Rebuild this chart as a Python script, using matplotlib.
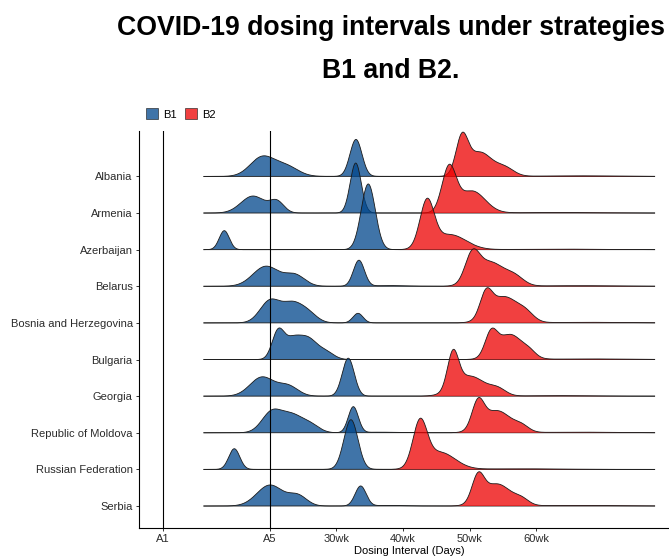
import numpy as np
import matplotlib
matplotlib.use("Agg")
import matplotlib.pyplot as plt
from matplotlib.patches import Patch

plt.rcParams['font.family'] = ['Liberation Sans', 'DejaVu Sans']

countries = ["Albania", "Armenia", "Azerbaijan", "Belarus", "Bosnia and Herzegovina",
             "Bulgaria", "Georgia", "Republic of Moldova", "Russian Federation", "Serbia"]
strategies = ["B1", "B2"]
fill_colors = ["#00468B", "#ED0000"]

xtick_days = [28, 140, 210, 280, 350, 420]
xtick_labels = ["A1", "A5", "30wk", "40wk", "50wk", "60wk"]
ref_lines = [28, 140]
x_range = [70.5, 544.8]

# Ridge components: peak centre (days), spread (days), height (row units)
b1_center = [[132.0, 157.2, 230.7],
             [122.5, 147.7, 230.4],
             [92.4, 243.6],
             [136.2, 166.6, 233.8, 266.4],
             [140.4, 163.5, 180.3, 232.8],
             [148.8, 163.5, 180.3, 199.2],
             [132.0, 159.3, 222.6],
             [142.5, 163.5, 182.4, 227.9, 255.9],
             [102.9, 225.4],
             [140.4, 169.7, 235.6, 266.4]]
b1_spread = [[12.6, 12.6, 6.3],
             [12.6, 7.4, 5.8],
             [5.3, 7.4],
             [13.7, 10.5, 5.8, 15.8],
             [10.5, 10.5, 9.5, 5.3],
             [6.3, 8.4, 9.5, 8.4],
             [12.6, 10.5, 6.3],
             [10.5, 10.5, 9.5, 5.3, 15.8],
             [5.8, 7.4],
             [13.7, 9.5, 5.8, 15.8]]
b1_height = [[0.519, 0.273, 1.010],
             [0.464, 0.300, 1.365],
             [0.519, 1.794],
             [0.546, 0.300, 0.710, 0.019],
             [0.601, 0.491, 0.246, 0.262],
             [0.737, 0.491, 0.546, 0.191],
             [0.519, 0.273, 1.037],
             [0.573, 0.437, 0.218, 0.710, 0.016],
             [0.565, 1.357],
             [0.573, 0.273, 0.546, 0.016]]

b2_center = [[342.0, 360.9, 387.2, 466.0],
             [328.4, 352.6, 445.0],
             [305.3, 329.4, 445.0],
             [352.6, 371.4, 397.7, 466.0],
             [367.2, 386.2, 409.3, 476.5],
             [372.5, 392.5, 413.4, 476.5],
             [332.6, 350.4, 379.9, 445.0],
             [358.8, 378.8, 405.0, 466.0],
             [297.9, 318.9, 403.0],
             [358.8, 378.8, 405.0, 466.0]]
b2_spread = [[6.3, 12.6, 9.5, 42.0],
             [7.4, 13.7, 42.0],
             [7.4, 16.8, 42.0],
             [7.4, 14.7, 9.5, 42.0],
             [6.3, 14.7, 8.4, 42.0],
             [6.3, 13.7, 6.3, 42.0],
             [5.8, 15.8, 8.4, 31.5],
             [6.3, 14.7, 7.4, 42.0],
             [7.4, 15.8, 42.0],
             [6.3, 14.7, 7.4, 42.0]]
b2_height = [[0.983, 0.655, 0.218, 0.016],
             [1.201, 0.601, 0.014],
             [1.256, 0.410, 0.014],
             [0.710, 0.655, 0.218, 0.016],
             [0.628, 0.710, 0.191, 0.016],
             [0.601, 0.683, 0.109, 0.016],
             [0.983, 0.546, 0.164, 0.014],
             [0.710, 0.601, 0.137, 0.016],
             [1.201, 0.464, 0.016],
             [0.683, 0.601, 0.137, 0.016]]

centers = [b1_center, b2_center]
spreads = [b1_spread, b2_spread]
heights = [b1_height, b2_height]


def ridge(x, c, s, h):
    y = np.zeros_like(x)
    for ci, si, hi in zip(c, s, h):
        y += hi * np.exp(-0.5 * ((x - ci) / si) ** 2)
    return y


fig = plt.figure(figsize=(6.69, 5.56), dpi=100)
ax = fig.add_axes([139 / 669, 28 / 556, 541 / 669, 397 / 556])

x = np.linspace(x_range[0], x_range[1], 1200)
n = len(countries)
for i, country in enumerate(countries):
    y0 = n - 1 - i
    for k in range(len(strategies)):
        h = ridge(x, centers[k][i], spreads[k][i], heights[k][i])
        z = 2 + i * 3 + k
        ax.fill_between(x, y0, y0 + h, facecolor=fill_colors[k], alpha=0.75,
                        linewidth=0, zorder=z)
        ax.plot(x, y0 + h, color="#1a1a1a", lw=0.6, zorder=z + 0.5,
                solid_capstyle="butt")

for xv in ref_lines:
    ax.axvline(xv, color="black", lw=0.8, zorder=100)

ax.set_xlim(2.8, 571)
ax.set_ylim(-0.60, 10.24)
ax.set_yticks(range(n))
ax.set_yticklabels(countries[::-1])
ax.set_xticks(xtick_days)
ax.set_xticklabels(xtick_labels)
ax.tick_params(axis="both", length=2.5, width=0.7, color="#333333",
               labelsize=8, labelcolor="#2b2b2b", pad=2)
for side in ["top", "right"]:
    ax.spines[side].set_visible(False)
for side in ["left", "bottom"]:
    ax.spines[side].set_linewidth(0.8)
    ax.spines[side].set_color("black")
ax.set_xlabel("Dosing Interval (Days)", fontsize=8, color="black", labelpad=1)

handles = [Patch(facecolor=c, alpha=0.75, edgecolor="#222222", linewidth=0.6, label=s)
           for c, s in zip(fill_colors, strategies)]
fig.legend(handles=handles, loc="center left", bbox_to_anchor=(146 / 669, 1 - 114 / 556),
           ncol=2, frameon=False, fontsize=8, handlelength=1.1, handleheight=1.1,
           handletextpad=0.45, columnspacing=0.75, borderpad=0, borderaxespad=0)

fig.text(391 / 669, 1 - 35 / 556, "COVID-19 dosing intervals under strategies",
         ha="center", va="baseline", fontsize=19.2, fontweight="bold")
fig.text(391 / 669, 1 - 78 / 556, "B1 and B2.",
         ha="center", va="baseline", fontsize=19.2, fontweight="bold")

fig.savefig("out.png", dpi=100)
